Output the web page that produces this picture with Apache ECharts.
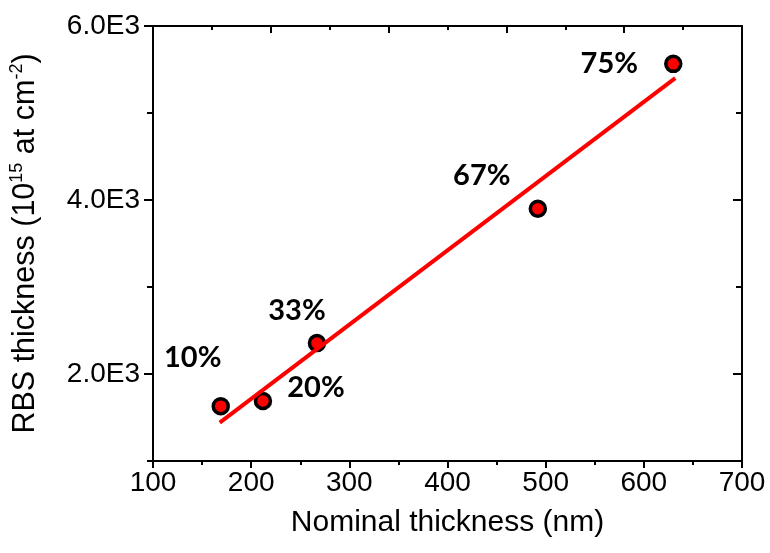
<!DOCTYPE html>
<html>
<head>
<meta charset="utf-8">
<script src="https://cdn.jsdelivr.net/npm/echarts@6/dist/echarts.min.js"></script>
<style>
  html, body { margin: 0; padding: 0; background: #fff; }
  #chart { width: 770px; height: 553px; }
</style>
</head>
<body>
<div id="chart"></div>
<script>
// Measured samples: nominal thickness (nm) vs RBS areal density
const sampleLabels = ['10%', '20%', '33%', '67%', '75%'];
const nominalNm = [169, 212, 267, 492, 630];
const rbsThickness = [1630, 1690, 2355, 3900, 5565];

// Linear fit drawn across the sample range
const fitX = [168, 632];
const fitY = [1440, 5400];

// Axis tick values
const yMajorTicks = [2000, 4000, 6000];
const yMinorTicks = [1000, 3000, 5000];

// Where each percentage label sits relative to its marker (px)
const labelOffsets = [[-28, -49], [53, -13], [-20, -32], [-56, -33], [-64, 0]];

const axisFont = 'Liberation Sans, Arial, sans-serif';
const black = '#000';

const scatterData = nominalNm.map((x, i) => ({
  value: [x, rbsThickness[i]],
  label: {
    show: true,
    formatter: sampleLabels[i],
    position: 'inside',
    offset: labelOffsets[i],
    color: black,
    fontFamily: 'Lato, sans-serif',
    fontWeight: 'bold',
    fontSize: 29
  }
}));

const fitData = fitX.map((x, i) => [x, fitY[i]]);

const yFmt = v => (v / 1000).toFixed(1) + 'E3';

const lineStyleAxis = { color: black, width: 2 };

const chart = echarts.init(document.getElementById('chart'), null, { renderer: 'canvas' });
chart.setOption({
  animation: false,
  backgroundColor: '#fff',
  grid: { left: 153, right: 28, top: 26, bottom: 92, containLabel: false },
  xAxis: [
    {
      type: 'value', position: 'bottom', min: 100, max: 700, interval: 100,
      axisLine: { show: true, onZero: false, lineStyle: lineStyleAxis },
      axisTick: { show: true, inside: false, length: 7, lineStyle: lineStyleAxis },
      minorTick: { show: true, splitNumber: 2, length: 4, lineStyle: lineStyleAxis },
      splitLine: { show: false },
      axisLabel: { color: black, fontFamily: axisFont, fontSize: 28, margin: 8 },
      name: 'Nominal thickness (nm)', nameLocation: 'middle', nameGap: 47,
      nameTextStyle: { color: black, fontFamily: axisFont, fontSize: 30 }
    },
    {
      type: 'value', position: 'top', min: 0, max: 10, interval: 2,
      axisLine: { show: true, onZero: false, lineStyle: lineStyleAxis },
      axisTick: { show: true, inside: true, length: 7, lineStyle: lineStyleAxis },
      minorTick: { show: true, splitNumber: 2, length: 4, lineStyle: lineStyleAxis },
      splitLine: { show: false },
      axisLabel: { show: false }
    }
  ],
  yAxis: [
    {
      type: 'value', position: 'left', min: 1000, max: 6000,
      axisLine: { show: true, onZero: false, lineStyle: lineStyleAxis },
      axisTick: { show: true, inside: false, length: 9, customValues: yMajorTicks, lineStyle: lineStyleAxis },
      splitLine: { show: false },
      axisLabel: { color: black, fontFamily: axisFont, fontSize: 28, margin: 13, customValues: yMajorTicks, formatter: yFmt },
      name: 'RBS thickness (10{sup|15} at cm{sup|-2})', nameLocation: 'middle', nameGap: 110,
      nameTextStyle: {
        color: black, fontFamily: axisFont, fontSize: 30.5, lineHeight: 35, verticalAlign: 'bottom',
        rich: { sup: { fontFamily: axisFont, fontSize: 18, color: black, verticalAlign: 'top', lineHeight: 35 } }
      }
    },
    {
      type: 'value', position: 'left', min: 1000, max: 6000,
      axisLine: { show: false },
      axisTick: { show: true, inside: false, length: 6, customValues: yMinorTicks, lineStyle: lineStyleAxis },
      splitLine: { show: false },
      axisLabel: { show: false }
    },
    {
      type: 'value', position: 'right', min: 1000, max: 6000,
      axisLine: { show: true, onZero: false, lineStyle: lineStyleAxis },
      axisTick: { show: true, inside: true, length: 9, customValues: yMajorTicks, lineStyle: lineStyleAxis },
      splitLine: { show: false },
      axisLabel: { show: false }
    },
    {
      type: 'value', position: 'right', min: 1000, max: 6000,
      axisLine: { show: false },
      axisTick: { show: true, inside: true, length: 6, customValues: yMinorTicks, lineStyle: lineStyleAxis },
      splitLine: { show: false },
      axisLabel: { show: false }
    }
  ],
  series: [
    {
      name: 'RBS', type: 'scatter', xAxisIndex: 0, yAxisIndex: 0,
      symbol: 'circle', symbolSize: 15, z: 2,
      itemStyle: { color: '#ff0000', borderColor: black, borderWidth: 3.5, opacity: 1 },
      data: scatterData
    },
    {
      name: 'Linear fit', type: 'line', xAxisIndex: 0, yAxisIndex: 0,
      showSymbol: false, symbol: 'none', z: 3,
      lineStyle: { color: '#ff0000', width: 4 },
      data: fitData
    }
  ]
});
</script>
</body>
</html>
